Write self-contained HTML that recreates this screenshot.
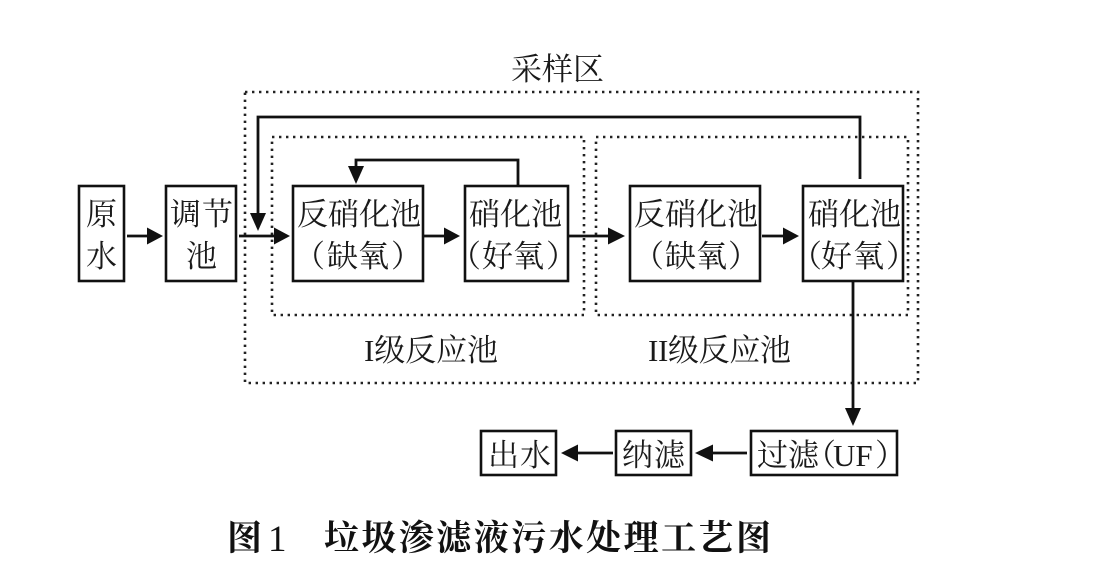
<!DOCTYPE html>
<html lang="zh">
<head>
<meta charset="utf-8">
<style>
html,body{margin:0;padding:0;background:#fff;width:1110px;height:574px;overflow:hidden}
svg{display:block}
text{font-family:"Liberation Serif","Noto Serif CJK SC",serif;font-size:31px;fill:#1a1a1a}
.t{font-family:"Liberation Serif","Noto Serif CJK SC",serif;font-size:35px;font-weight:700;fill:#111}
.b{fill:#fff;stroke:#111;stroke-width:2.6}
.d{fill:none;stroke:#222;stroke-width:2.6;stroke-dasharray:2.4 4.6}
.l{fill:none;stroke:#111;stroke-width:2.8}
.a{fill:#111;stroke:none}
</style>
</head>
<body>
<svg width="1110" height="574" viewBox="0 0 1110 574" xmlns="http://www.w3.org/2000/svg">
<rect x="245" y="92" width="673" height="291" class="d"/>
<rect x="272" y="137" width="312" height="178" class="d"/>
<rect x="596" y="137" width="312" height="178" class="d"/>

<polyline points="860,179 860,117 258,117 258,216" class="l"/>
<polygon points="250,213 266,213 258,231" class="a"/>
<polyline points="518,187 518,160 356,160 356,168" class="l"/>
<polygon points="348,166 364,166 356,184" class="a"/>
<line x1="853" y1="281" x2="853" y2="410" class="l"/>
<polygon points="845,408 861,408 853,426" class="a"/>

<rect x="79" y="186" width="45" height="95" class="b"/>
<rect x="166" y="186" width="70" height="95" class="b"/>
<rect x="293" y="186" width="130" height="95" class="b"/>
<rect x="465" y="186" width="103" height="95" class="b"/>
<rect x="630" y="186" width="130" height="95" class="b"/>
<rect x="803" y="186" width="100" height="95" class="b"/>
<rect x="481" y="431" width="75" height="44" class="b"/>
<rect x="616" y="431" width="75" height="44" class="b"/>
<rect x="751" y="431" width="146" height="44" class="b"/>

<line x1="127" y1="236" x2="148" y2="236" class="l"/><polygon points="147,227.5 147,244.5 163,236" class="a"/>
<line x1="239" y1="236" x2="275" y2="236" class="l"/><polygon points="274,227.5 274,244.5 290,236" class="a"/>
<line x1="424" y1="236" x2="445" y2="236" class="l"/><polygon points="444,227.5 444,244.5 460,236" class="a"/>
<line x1="569" y1="236" x2="609" y2="236" class="l"/><polygon points="608,227.5 608,244.5 625,236" class="a"/>
<line x1="762" y1="236" x2="784" y2="236" class="l"/><polygon points="783,227.5 783,244.5 799,236" class="a"/>
<line x1="747" y1="453" x2="712" y2="453" class="l"/><polygon points="713,444.5 713,461.5 695,453" class="a"/>
<line x1="613" y1="453" x2="577" y2="453" class="l"/><polygon points="578,444.5 578,461.5 561,453" class="a"/>

<text x="511" y="80" textLength="93">采样区</text>
<text x="86" y="225">原</text>
<text x="86" y="267">水</text>
<text x="170" y="225" textLength="63">调节</text>
<text x="186" y="267">池</text>
<text x="297" y="225" textLength="124">反硝化池</text>
<text x="294" y="267">（</text><text x="327" y="267">缺</text><text x="358" y="267">氧</text><text x="391" y="267">）</text>
<text x="469" y="225" textLength="93">硝化池</text>
<text x="450" y="267">（</text><text x="482" y="267">好</text><text x="513" y="267">氧</text><text x="546" y="267">）</text>
<text x="634" y="225" textLength="124">反硝化池</text>
<text x="633" y="267">（</text><text x="665" y="267">缺</text><text x="696" y="267">氧</text><text x="728" y="267">）</text>
<text x="808" y="225" textLength="93">硝化池</text>
<text x="791" y="267">（</text><text x="821" y="267">好</text><text x="853" y="267">氧</text><text x="886" y="267">）</text>
<text x="364" y="361" textLength="134">I级反应池</text>
<text x="648" y="361" textLength="143">II级反应池</text>
<text x="488" y="466" textLength="63">出水</text>
<text x="622" y="466" textLength="63">纳滤</text>
<text x="757" y="466" textLength="62">过滤</text>
<text x="805" y="466">（</text><text x="833" y="466">UF</text><text x="875" y="466">）</text>

<text class="t" x="227" y="550">图</text>
<text class="t" x="268" y="551" style="font-weight:400;font-size:37px">1</text>
<text class="t" x="324" y="550" textLength="447">垃圾渗滤液污水处理工艺图</text>
</svg>
</body>
</html>
